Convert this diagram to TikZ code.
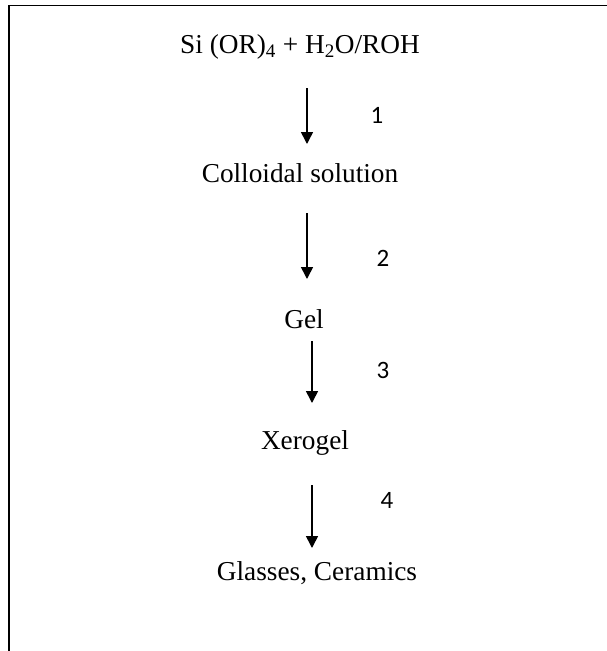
\documentclass[tikz,border=0pt]{standalone}
\usepackage{fontspec}
\setmainfont{Liberation Serif}
\newfontfamily\digitfont{Carlito}
\usetikzlibrary{arrows.meta}

\begin{document}
\begin{tikzpicture}[x=1pt,y=-1pt,
    stage/.style={anchor=base,inner sep=0pt,font=\fontsize{27.3}{32}\selectfont},
    steplabel/.style={anchor=center,inner sep=0pt,font=\digitfont\fontsize{25}{30}\selectfont},
    flow/.style={line width=1.6pt,-{Triangle[width=12pt,length=12pt]}},
    frame/.style={line width=1.6pt}]
  \useasboundingbox (0,0) rectangle (607,651);

  % open frame: top and left edges
  \coordinate (fTR) at (607,5.5);
  \coordinate (fTL) at (9,5.5);
  \coordinate (fBL) at (9,651);
  \draw[frame] (fTR) -- (fTL) -- (fBL);

  % stages of the process
  \node[stage] (s0) at (300,53) {Si (OR)\textsubscript{4} + H\textsubscript{2}O/ROH};
  \node[stage] (s1) at (300,182) {Colloidal solution};
  \node[stage] (s2) at (304,328) {Gel};
  \node[stage] (s3) at (305,449) {Xerogel};
  \node[stage] (s4) at (317,580) {Glasses, Ceramics};

  % arrow end points
  \coordinate (a1s) at (307,88);  \coordinate (a1e) at (307,144);
  \coordinate (a2s) at (307,213); \coordinate (a2e) at (307,279);
  \coordinate (a3s) at (312,341); \coordinate (a3e) at (312,403);
  \coordinate (a4s) at (312,485); \coordinate (a4e) at (312,548);

  \draw[flow] (a1s) -- (a1e);
  \draw[flow] (a2s) -- (a2e);
  \draw[flow] (a3s) -- (a3e);
  \draw[flow] (a4s) -- (a4e);

  % step numbers
  \node[steplabel] (n1) at (377,115) {1};
  \node[steplabel] (n2) at (383,258) {2};
  \node[steplabel] (n3) at (383,370) {3};
  \node[steplabel] (n4) at (387,500) {4};
\end{tikzpicture}
\end{document}
